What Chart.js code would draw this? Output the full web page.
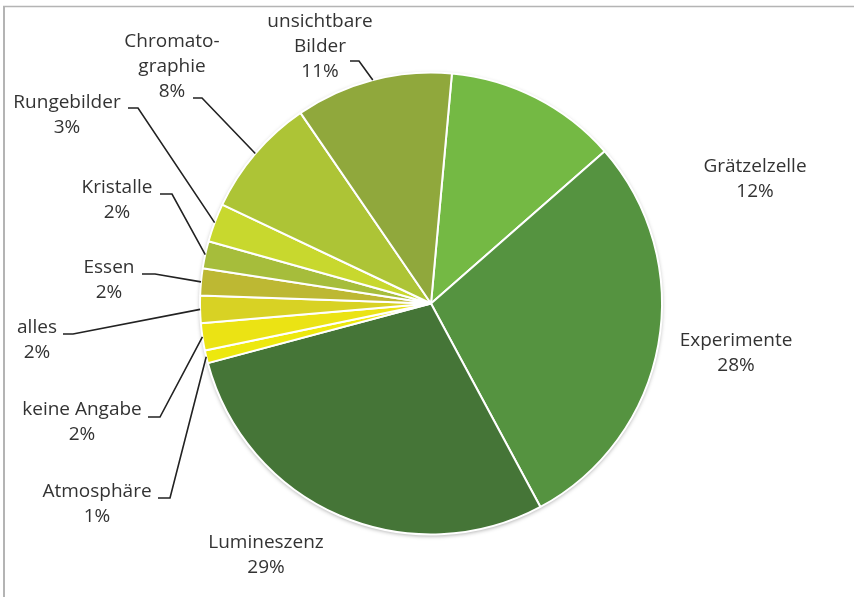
<!DOCTYPE html>
<html>
<head>
<meta charset="utf-8">
<script src="https://cdn.jsdelivr.net/npm/chart.js@4/dist/chart.umd.min.js"></script>
<style>
  html, body { margin: 0; padding: 0; background: #fff; }
  #wrap { width: 854px; height: 597px; position: relative; }
</style>
</head>
<body>
<div id="wrap"><canvas id="pie"></canvas></div>
<script>
// Daten (Anteile in %)
const categories = ['Grätzelzelle', 'Experimente', 'Lumineszenz', 'Atmosphäre', 'keine Angabe',
  'alles', 'Essen', 'Kristalle', 'Rungebilder', 'Chromatographie', 'unsichtbare Bilder'];
const shares = [12.1, 28.6, 28.7, 0.9, 1.9, 1.9, 1.9, 1.9, 2.7, 8.4, 11.0];
const percentLabels = ['12%', '28%', '29%', '1%', '2%', '2%', '2%', '2%', '3%', '8%', '11%'];
const labelLines = [['Grätzelzelle'], ['Experimente'], ['Lumineszenz'], ['Atmosphäre'], ['keine Angabe'],
  ['alles'], ['Essen'], ['Kristalle'], ['Rungebilder'], ['Chromato-', 'graphie'], ['unsichtbare', 'Bilder']];

const sliceColors = ['#74b944', '#559340', '#457537', '#ede80e', '#ebe314',
  '#d8d224', '#bdb833', '#a6bd3b', '#c8d82e', '#adc436', '#90a83c'];

// Position der Beschriftungen (Textmitte erste Zeile) und Haken der Führungslinien
const labelLayout = [
  { x: 755, y: 167 },
  { x: 736, y: 341 },
  { x: 266, y: 543 },
  { x: 97, y: 492, hook: [158, 170, 498] },
  { x: 82, y: 410, hook: [148, 160, 417] },
  { x: 37, y: 328, hook: [63, 73, 334] },
  { x: 109, y: 268, hook: [142, 155, 274] },
  { x: 117, y: 188, hook: [160, 172, 194] },
  { x: 67, y: 103, hook: [128, 138, 108] },
  { x: 172, y: 42, hook: [193, 202, 98] },
  { x: 320, y: 22, hook: [350, 359, 61] }
];

const frame = {
  id: 'frame',
  beforeDraw(chart) {
    const ctx = chart.ctx;
    ctx.save();
    ctx.strokeStyle = '#b4b4b4';
    ctx.lineWidth = 1.5;
    ctx.beginPath();
    ctx.moveTo(3, 6.5);
    ctx.lineTo(854, 6.5);
    ctx.stroke();
    ctx.lineWidth = 2;
    ctx.beginPath();
    ctx.moveTo(4, 6);
    ctx.lineTo(4, 597);
    ctx.stroke();
    ctx.restore();
  },
  beforeDatasetsDraw(chart) {
    // leichter Schatten unter dem Kreis
    const arc = chart.getDatasetMeta(0).data[0];
    const ctx = chart.ctx;
    ctx.save();
    ctx.fillStyle = '#fff';
    ctx.shadowColor = 'rgba(0,0,0,0.35)';
    ctx.shadowBlur = 4;
    ctx.shadowOffsetY = 1.5;
    ctx.beginPath();
    ctx.arc(arc.x, arc.y, arc.outerRadius, 0, Math.PI * 2);
    ctx.fill();
    ctx.restore();
  }
};

const sliceLabels = {
  id: 'sliceLabels',
  afterDraw(chart) {
    const ctx = chart.ctx;
    const arcs = chart.getDatasetMeta(0).data;
    ctx.save();
    ctx.font = '19px "Open Sans", sans-serif';
    ctx.fillStyle = '#333';
    ctx.textAlign = 'center';
    ctx.textBaseline = 'middle';
    arcs.forEach((arc, i) => {
      const lay = labelLayout[i];
      const lines = labelLines[i].concat([percentLabels[i]]);
      lines.forEach((t, k) => ctx.fillText(t, lay.x, lay.y + k * 25));
      if (lay.hook) {
        const mid = (arc.startAngle + arc.endAngle) / 2;
        const px = arc.x + arc.outerRadius * Math.cos(mid);
        const py = arc.y + arc.outerRadius * Math.sin(mid);
        ctx.strokeStyle = '#222';
        ctx.lineWidth = 1.6;
        ctx.beginPath();
        ctx.moveTo(lay.hook[0], lay.hook[2]);
        ctx.lineTo(lay.hook[1], lay.hook[2]);
        ctx.lineTo(px, py);
        ctx.stroke();
      }
    });
    ctx.restore();
  }
};

new Chart(document.getElementById('pie'), {
  type: 'pie',
  data: {
    labels: categories,
    datasets: [{
      data: shares,
      backgroundColor: sliceColors,
      borderColor: '#fff',
      borderWidth: 2
    }]
  },
  options: {
    responsive: true,
    maintainAspectRatio: false,
    animation: false,
    rotation: 5.2,
    layout: { padding: { top: 71, bottom: 61, left: 199, right: 191 } },
    plugins: { legend: { display: false }, tooltip: { enabled: false } }
  },
  plugins: [frame, sliceLabels]
});
</script>
</body>
</html>
